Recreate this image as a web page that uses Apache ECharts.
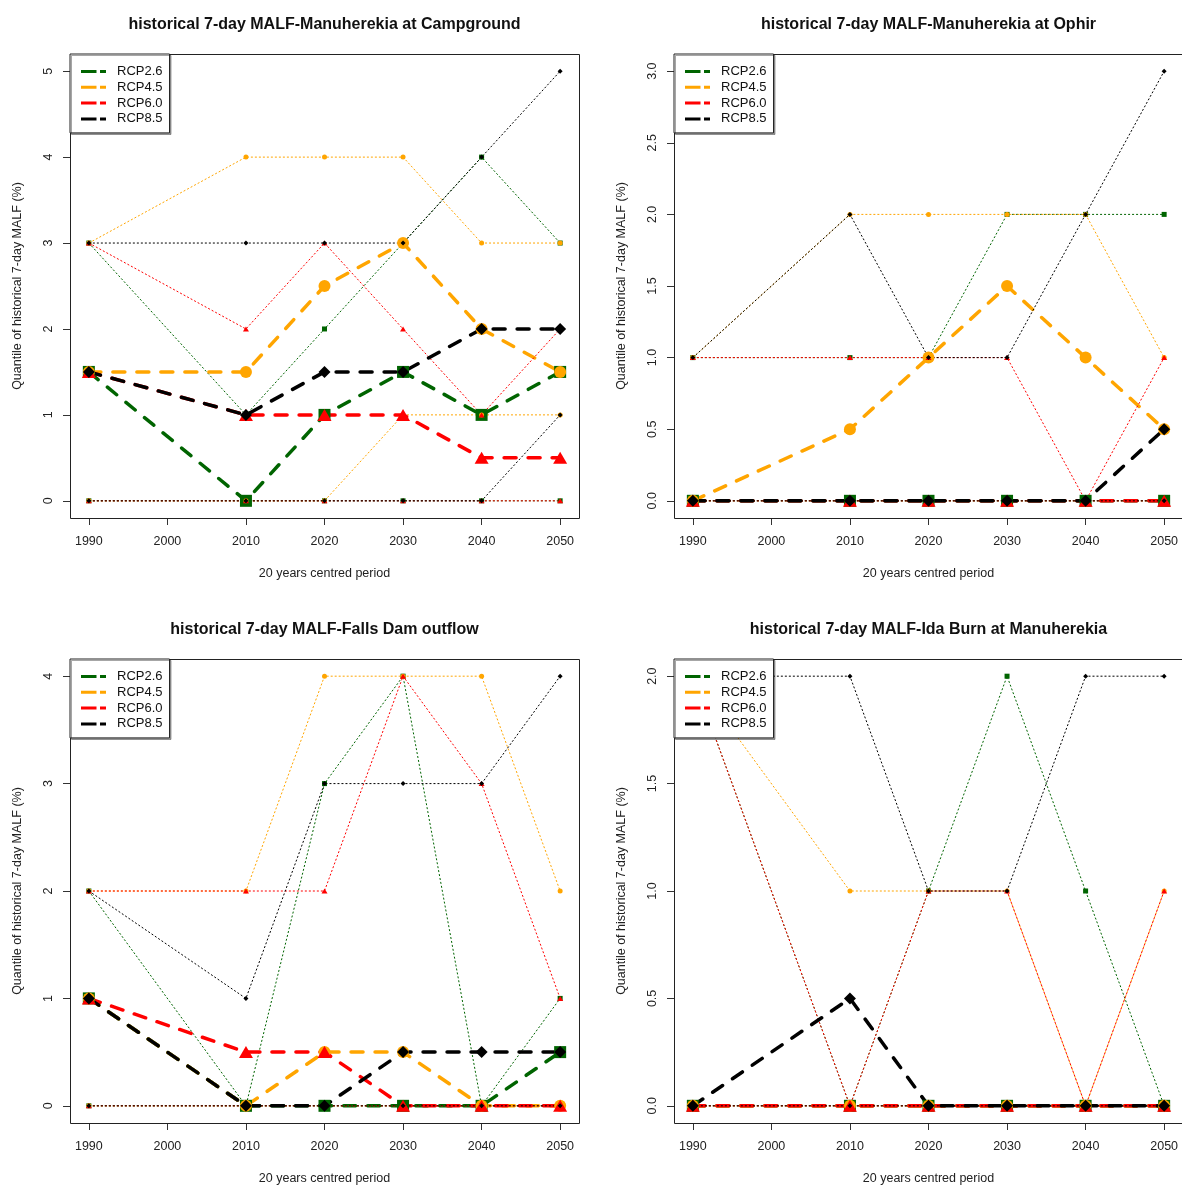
<!DOCTYPE html>
<html><head><meta charset="utf-8">
<script src="https://cdn.jsdelivr.net/npm/echarts@6/dist/echarts.min.js"></script>
<style>html,body{margin:0;padding:0;background:#fff}#c{width:1182px;height:1185px}</style>
</head><body><div id="c"></div>
<script>
// ---------------- DATA ----------------
const years = [1990, 2010, 2020, 2030, 2040, 2050];
const rcpNames = ['RCP2.6', 'RCP4.5', 'RCP6.0', 'RCP8.5'];
const panelTitles = [
  'historical 7-day MALF-Manuherekia at Campground',
  'historical 7-day MALF-Manuherekia at Ophir',
  'historical 7-day MALF-Falls Dam outflow',
  'historical 7-day MALF-Ida Burn at Manuherekia'
];
const xAxisTitle = '20 years centred period';
const yAxisTitle = 'Quantile of historical 7-day MALF (%)';
const yMax = [5, 3, 4, 2];
const yStep = [1, 0.5, 1, 0.5];

// Panel 1: Campground
const campMed26 = [1.5, 0, 1, 1.5, 1, 1.5];
const campMed45 = [1.5, 1.5, 2.5, 3, 2, 1.5];
const campMed60 = [1.5, 1, 1, 1, 0.5, 0.5];
const campMed85 = [1.5, 1, 1.5, 1.5, 2, 2];
const campMax26 = [3, 1, 2, 3, 4, 3];
const campMax45 = [3, 4, 4, 4, 3, 3];
const campMax60 = [3, 2, 3, 2, 1, 2];
const campMax85 = [3, 3, 3, 3, 4, 5];
const campMin26 = [0, 0, 0, 0, 0, 0];
const campMin45 = [0, 0, 0, 1, 1, 1];
const campMin60 = [0, 0, 0, 0, 0, 0];
const campMin85 = [0, 0, 0, 0, 0, 1];

// Panel 2: Ophir
const ophMed26 = [0, 0, 0, 0, 0, 0];
const ophMed45 = [0, 0.5, 1, 1.5, 1, 0.5];
const ophMed60 = [0, 0, 0, 0, 0, 0];
const ophMed85 = [0, 0, 0, 0, 0, 0.5];
const ophMax26 = [1, 1, 1, 2, 2, 2];
const ophMax45 = [1, 2, 2, 2, 2, 1];
const ophMax60 = [1, 1, 1, 1, 0, 1];
const ophMax85 = [1, 2, 1, 1, 2, 3];
const ophMin26 = [0, 0, 0, 0, 0, 0];
const ophMin45 = [0, 0, 0, 0, 0, 0];
const ophMin60 = [0, 0, 0, 0, 0, 0];
const ophMin85 = [0, 0, 0, 0, 0, 0];

// Panel 3: Falls Dam outflow
const fallsMed26 = [1, 0, 0, 0, 0, 0.5];
const fallsMed45 = [1, 0, 0.5, 0.5, 0, 0];
const fallsMed60 = [1, 0.5, 0.5, 0, 0, 0];
const fallsMed85 = [1, 0, 0, 0.5, 0.5, 0.5];
const fallsMax26 = [2, 0, 3, 4, 0, 1];
const fallsMax45 = [2, 2, 4, 4, 4, 2];
const fallsMax60 = [2, 2, 2, 4, 3, 1];
const fallsMax85 = [2, 1, 3, 3, 3, 4];
const fallsMin26 = [0, 0, 0, 0, 0, 0];
const fallsMin45 = [0, 0, 0, 0, 0, 0];
const fallsMin60 = [0, 0, 0, 0, 0, 0];
const fallsMin85 = [0, 0, 0, 0, 0, 0];

// Panel 4: Ida Burn at Manuherekia
const idaMed26 = [0, 0, 0, 0, 0, 0];
const idaMed45 = [0, 0, 0, 0, 0, 0];
const idaMed60 = [0, 0, 0, 0, 0, 0];
const idaMed85 = [0, 0.5, 0, 0, 0, 0];
const idaMax26 = [2, 0, 1, 2, 1, 0];
const idaMax45 = [2, 1, 1, 1, 0, 1];
const idaMax60 = [2, 0, 1, 1, 0, 1];
const idaMax85 = [2, 2, 1, 1, 2, 2];
const idaMin26 = [0, 0, 0, 0, 0, 0];
const idaMin45 = [0, 0, 0, 0, 0, 0];
const idaMin60 = [0, 0, 0, 0, 0, 0];
const idaMin85 = [0, 0, 0, 0, 0, 0];

const panelMedians = [
  [campMed26, campMed45, campMed60, campMed85],
  [ophMed26, ophMed45, ophMed60, ophMed85],
  [fallsMed26, fallsMed45, fallsMed60, fallsMed85],
  [idaMed26, idaMed45, idaMed60, idaMed85]
];
const panelMaxima = [
  [campMax26, campMax45, campMax60, campMax85],
  [ophMax26, ophMax45, ophMax60, ophMax85],
  [fallsMax26, fallsMax45, fallsMax60, fallsMax85],
  [idaMax26, idaMax45, idaMax60, idaMax85]
];
const panelMinima = [
  [campMin26, campMin45, campMin60, campMin85],
  [ophMin26, ophMin45, ophMin60, ophMin85],
  [fallsMin26, fallsMin45, fallsMin60, fallsMin85],
  [idaMin26, idaMin45, idaMin60, idaMin85]
];

// ---------------- STYLE / LAYOUT ----------------
const FONT = '"Liberation Sans", Arial, sans-serif';
const colors = ['#006400', '#FFA500', '#FF0000', '#000000'];
const symbols = ['rect', 'circle', 'triangle', 'diamond'];
const bigSize = [12, 12, [14, 12], 12];
const smallSize = [5, 5, [6, 5], 5];
const BOX_W = 509, BOX_H = 464;
const boxes = [[70, 54], [674, 54], [70, 659], [674, 659]];
const padX = BOX_W * 0.04 / 1.08, padY = BOX_H * 0.04 / 1.08;
const dataW = BOX_W / 1.08, dataH = BOX_H / 1.08;
const legendIcon = 'path://M0,0h15.5v3h-15.5zM19,0h6v3h-6z';

const grids = [], xAxes = [], yAxes = [], titles = [], legends = [], graphics = [], series = [];

boxes.forEach((b, p) => {
  grids.push({
    left: b[0] + padX, top: b[1] + padY, width: dataW, height: dataH,
    containLabel: false, outerBoundsMode: 'none'
  });
  xAxes.push({
    type: 'value', gridIndex: p, min: 1990, max: 2050, interval: 10,
    offset: padY,
    axisLine: { show: true, onZero: false, lineStyle: { color: '#333', width: 1 } },
    axisTick: { show: true, length: 7, inside: false, lineStyle: { color: '#333' } },
    axisLabel: { margin: 17, fontSize: 12.5, color: '#222', fontFamily: FONT, formatter: v => String(v) },
    splitLine: { show: false },
    name: xAxisTitle, nameLocation: 'middle', nameGap: 49,
    nameTextStyle: { fontSize: 12.5, color: '#222', fontFamily: FONT }
  });
  yAxes.push({
    type: 'value', gridIndex: p, min: 0, max: yMax[p], interval: yStep[p],
    offset: padX,
    axisLine: { show: true, onZero: false, lineStyle: { color: '#333', width: 1 } },
    axisTick: { show: true, length: 7, inside: false, lineStyle: { color: '#333' } },
    axisLabel: {
      rotate: 90, margin: 15, fontSize: 12.5, color: '#222', fontFamily: FONT,
      formatter: v => yStep[p] < 1 ? v.toFixed(1) : String(v)
    },
    splitLine: { show: false },
    name: yAxisTitle, nameLocation: 'middle', nameRotate: 90, nameGap: 46,
    nameTextStyle: { fontSize: 12.5, color: '#222', fontFamily: FONT }
  });
  titles.push({
    text: panelTitles[p], left: b[0] + BOX_W / 2, top: b[1] - 37, textAlign: 'center', padding: 0,
    textStyle: { fontSize: 16, fontWeight: 'bold', color: '#111', fontFamily: FONT }
  });
  legends.push({
    left: b[0], top: b[1], orient: 'vertical', selectedMode: false,
    data: rcpNames.map(n => ({ name: n, icon: legendIcon })),
    itemWidth: 25, itemHeight: 3, itemGap: 0.8,
    padding: [10, 7, 6.5, 11],
    backgroundColor: '#fff', borderColor: '#222', borderWidth: 1,
    shadowColor: 'rgba(0,0,0,0.35)', shadowOffsetX: 1.5, shadowOffsetY: 1.5, shadowBlur: 0,
    itemStyle: { borderWidth: 0 },
    textStyle: { fontSize: 13, lineHeight: 15, padding: [0, 0, 0, 6], color: '#111', fontFamily: FONT }
  });
  graphics.push({
    type: 'rect', z: 1, silent: true,
    shape: { x: b[0] + 0.5, y: b[1] + 0.5, width: BOX_W, height: BOX_H },
    style: { fill: 'none', stroke: '#222', lineWidth: 1 }
  });

  for (let r = 0; r < 4; r++) {
    const mk = arr => years.map((y, i) => [y, arr[i]]);
    const dotted = (arr, tag) => ({
      type: 'line', name: rcpNames[r] + ' ' + tag, xAxisIndex: p, yAxisIndex: p,
      data: mk(arr), clip: false, silent: true, animation: false,
      symbol: symbols[r], symbolSize: smallSize[r], showSymbol: true,
      itemStyle: { color: colors[r], borderWidth: 0 },
      lineStyle: { color: colors[r], width: 1, type: [2, 2], opacity: 1 }
    });
    series.push(dotted(panelMaxima[p][r], 'max'));
    series.push(dotted(panelMinima[p][r], 'min'));
    series.push({
      type: 'line', name: rcpNames[r], xAxisIndex: p, yAxisIndex: p,
      data: mk(panelMedians[p][r]), clip: false, silent: true, animation: false,
      symbol: symbols[r], symbolSize: bigSize[r], showSymbol: true,
      itemStyle: { color: colors[r], borderWidth: 0 },
      lineStyle: { color: colors[r], width: 3.5, type: [12, 12], cap: 'round' }
    });
  }
});

const chart = echarts.init(document.getElementById('c'), null, { renderer: 'canvas' });
chart.setOption({
  animation: false,
  backgroundColor: '#fff',
  title: titles, legend: legends, grid: grids, xAxis: xAxes, yAxis: yAxes,
  graphic: graphics, series: series
});
</script></body></html>
